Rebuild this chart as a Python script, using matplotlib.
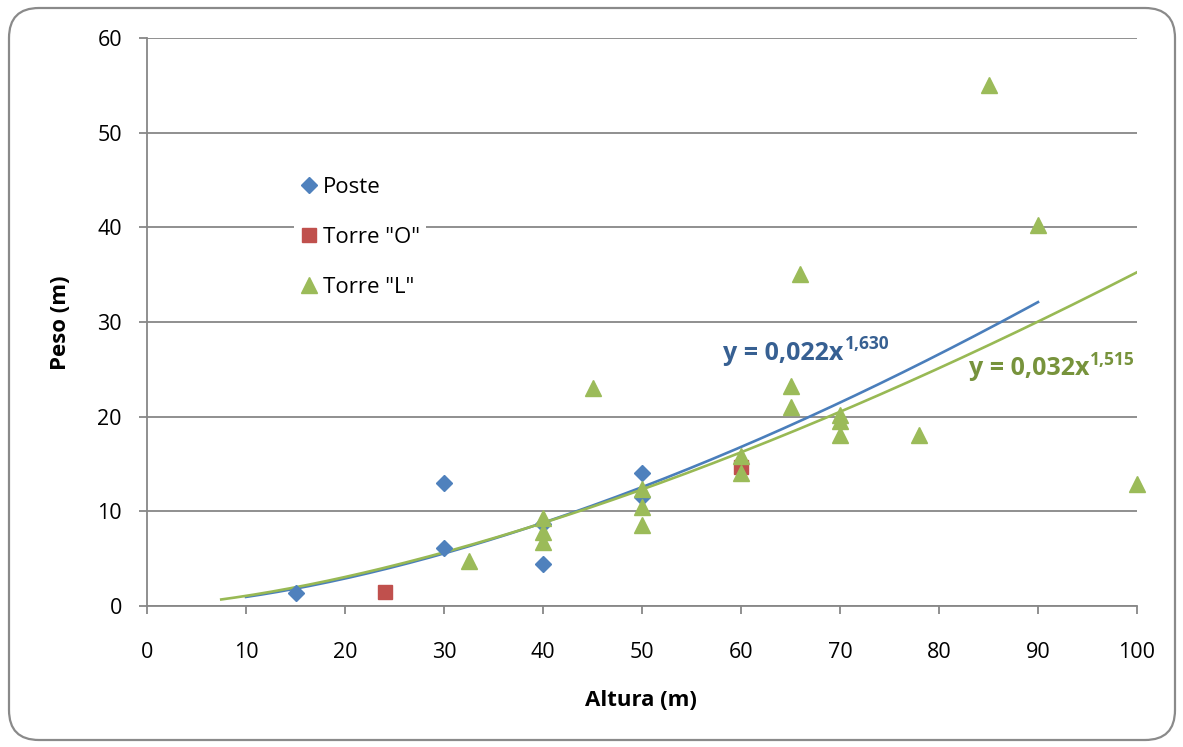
import numpy as np
import matplotlib
matplotlib.use("Agg")
import matplotlib.pyplot as plt
from matplotlib.patches import FancyBboxPatch
from matplotlib.transforms import IdentityTransform

# Data
poste_x = [15, 30, 30, 40, 40, 50, 50]
poste_y = [1.4, 13.0, 6.1, 8.7, 4.4, 14.1, 11.5]

torre_o_x = [24, 60]
torre_o_y = [1.5, 14.7]

torre_l_x = [32.5, 40, 40, 40, 45, 50, 50, 50, 60, 60, 65, 65, 66,
             70, 70, 70, 78, 85, 90, 100]
torre_l_y = [4.8, 9.3, 7.8, 6.8, 23.0, 12.4, 10.5, 8.6, 15.8, 14.1, 23.2, 21.0, 35.1,
             20.2, 19.5, 18.1, 18.1, 55.0, 40.2, 12.9]

# trend line equations as printed on the chart (base, exponent)
poste_eq = ("y = 0,022x", "1,630")
torre_l_eq = ("y = 0,032x", "1,515")

# Colours (Excel 2007 palette)
BLUE = "#4F81BD"
RED = "#C0504D"
GREEN = "#9BBB59"
GRID = "#878787"

plt.rcParams["font.family"] = ["Open Sans", "DejaVu Sans"]


def power_fit(x, y):
    """Least squares power trend line, the way Excel does it (log-log)."""
    b, ln_a = np.polyfit(np.log(x), np.log(y), 1)
    return np.exp(ln_a), b


fig = plt.figure(figsize=(11.83, 7.47), dpi=100)
W, H = 1183, 747

# rounded chart border
border = FancyBboxPatch((9, 7), 1166, 732,
                        boxstyle="round,pad=0,rounding_size=30",
                        transform=IdentityTransform(),
                        facecolor="none", edgecolor="#8a8a8a", linewidth=1.6)
fig.patches.append(border)

ax = fig.add_axes([147 / W, 1 - 606 / H, (1137 - 147) / W, (606 - 38) / H])

# trend lines
a_p, b_p = power_fit(poste_x, poste_y)
xs_p = np.linspace(10, 90, 200)
ax.plot(xs_p, a_p * xs_p ** b_p, color="#4A7EBB", lw=1.9, zorder=3)

a_l, b_l = power_fit(torre_l_x, torre_l_y)
xs_l = np.linspace(7.5, 100, 200)
ax.plot(xs_l, a_l * xs_l ** b_l, color="#98B954", lw=1.9, zorder=3)

# points
ax.plot(poste_x, poste_y, linestyle="none", marker="D", markersize=8,
        color=BLUE, label="Poste", zorder=4, clip_on=False)
ax.plot(torre_o_x, torre_o_y, linestyle="none", marker="s", markersize=10.5,
        color=RED, label='Torre "O"', zorder=4, clip_on=False)
ax.plot(torre_l_x, torre_l_y, linestyle="none", marker="^", markersize=11.5,
        color=GREEN, label='Torre "L"', zorder=5, clip_on=False)

# axes styling
ax.set_xlim(0, 100)
ax.set_ylim(0, 60)
ax.set_xticks(range(0, 101, 10))
ax.set_yticks(range(0, 61, 10))
ax.yaxis.grid(True, color=GRID, linewidth=1.3)
ax.set_axisbelow(True)
for side in ["top", "right"]:
    ax.spines[side].set_visible(False)
for side in ["left", "bottom"]:
    ax.spines[side].set_color(GRID)
    ax.spines[side].set_linewidth(1.3)
ax.tick_params(axis="both", direction="out", length=6, width=1.3,
               color=GRID, labelsize=15.5, labelcolor="black")
ax.tick_params(axis="x", pad=20)
ax.tick_params(axis="y", pad=12)

fig.text(641 / W, 1 - 700 / H, "Altura (m)", fontsize=16, fontweight="bold",
         ha="center", va="center")
fig.text(60 / W, 1 - 323 / H, "Peso (m)", fontsize=16, fontweight="bold",
         ha="center", va="center", rotation=90)

leg = ax.legend(loc="upper left", bbox_to_anchor=(0.137, 0.787), frameon=True,
                fontsize=16, labelspacing=1.3, handlelength=0.8,
                handletextpad=0.2, borderpad=0.3)
leg.get_frame().set_facecolor("white")
leg.get_frame().set_edgecolor("none")
leg.get_frame().set_alpha(1)

# equations: base text then a superscript exponent after it
eqs = [(poste_eq, 58.2, 26.0, "#376092"), (torre_l_eq, 83.0, 24.4, "#77933C")]
base_texts = []
for (base, exp), x0, y0, col in eqs:
    t = ax.text(x0, y0, base, color=col, fontsize=18, fontweight="bold",
                ha="left", va="baseline", zorder=6)
    base_texts.append(t)

fig.canvas.draw()
renderer = fig.canvas.get_renderer()
for t, ((base, exp), x0, y0, col) in zip(base_texts, eqs):
    bb = t.get_window_extent(renderer)
    base_y = ax.transData.transform((x0, y0))[1]
    ax.annotate(exp, xy=(bb.x1 + 1, base_y), xycoords="figure pixels",
                xytext=(0, 7.5), textcoords="offset points",
                color=col, fontsize=12.5, fontweight="bold",
                ha="left", va="baseline", zorder=6)

fig.savefig("out.png", dpi=100)
